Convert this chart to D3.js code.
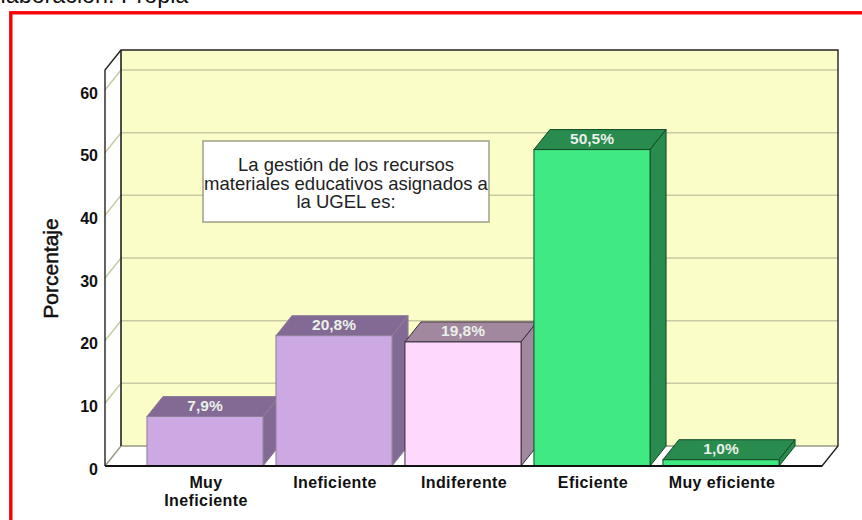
<!DOCTYPE html>
<html><head><meta charset="utf-8">
<script src="https://cdn.jsdelivr.net/npm/d3@7/dist/d3.min.js"></script>
<style>html,body{margin:0;padding:0;background:#fff;overflow:hidden}svg{display:block}</style>
</head><body><svg id="c" width="862" height="520"></svg>
<script>
const categories = ["Muy|Ineficiente","Ineficiente","Indiferente","Eficiente","Muy eficiente"];
const values = [7.9,20.8,19.8,50.5,1.0];
const valueLabels = ["7,9%","20,8%","19,8%","50,5%","1,0%"];
const frontColors = ["#cda9e3","#cda9e3","#ffd8fd","#40ea82","#40ea82"];
const topColors = ["#836a94","#836a94","#a1889f","#2a8b4f","#2a8b4f"];
const sideColors = ["#836a94","#836a94","#a1889f","#2a8b4f","#2a8b4f"];
const edgeColors = ["#8c7f98","#8c7f98","#3a2f3a","#0f4a26","#0f4a26"];
const yTicks = [0,10,20,30,40,50,60];
const noteLines = ["La gestión de los recursos","materiales educativos asignados a","la UGEL es:"];
const sourceText = "Elaboración: Propia";
const yTitle = "Porcentaje";

const svg = d3.select("#c");
const dx = 16, dy = -20;
const y = d3.scaleLinear().domain([0,63.2]).range([466,70]);
const x = d3.scaleBand().domain(categories).range([140.5,785.5]).paddingInner(0.1).paddingOuter(0.05);
const L = 105, R = 822;
const poly = pts => pts.map(p=>p.join(",")).join(" ");

svg.append("text").attr("x",-15).attr("y",3).attr("font-family","Liberation Sans").attr("font-size",23.3).attr("fill","#111").text(sourceText);
svg.append("rect").attr("x",10.8).attr("y",12.8).attr("width",860).attr("height",520).attr("fill","#fff").attr("stroke","#f80000").attr("stroke-width",3.4);

const yTop = y(y.domain()[1]), base = y(0);
svg.append("polygon").attr("points",poly([[L+dx,yTop+dy],[R+dx,yTop+dy],[R+dx,base+dy],[L+dx,base+dy]])).attr("fill","#fafdc8");
svg.append("polygon").attr("points",poly([[L,yTop],[L+dx,yTop+dy],[L+dx,base+dy],[L,base]])).attr("fill","#fff");
svg.append("polygon").attr("points",poly([[L,base],[L+dx,base+dy],[R+dx,base+dy],[R,base]])).attr("fill","#fff");

yTicks.forEach(t=>{
  const yy=y(t);
  svg.append("path").attr("d",`M${L},${yy}L${L+dx},${yy+dy}H${R+dx}`).attr("fill","none").attr("stroke",t>0?"#c9c9a4":"#9a9a84").attr("stroke-width",1.5);
});
svg.append("path").attr("d",`M${L},${base}V${yTop}L${L+dx},${yTop+dy}H${R+dx}V${base+dy}L${R},${base}H${L}`).attr("fill","none").attr("stroke","#222").attr("stroke-width",1.4);
svg.append("path").attr("d",`M${L+dx},${yTop+dy}V${base+dy}`).attr("stroke","#222").attr("stroke-width",1.6);

const ax = svg.append("g").attr("transform",`translate(${L-7},3)`).call(d3.axisLeft(y).tickValues(yTicks).tickSize(0).tickPadding(0).tickFormat(d3.format("d")));
ax.select(".domain").remove();
ax.selectAll("text").attr("font-family","Liberation Sans").attr("font-weight","bold").attr("font-size",16).attr("fill","#111");

svg.append("text").attr("transform","translate(58,268.5) rotate(-90)").attr("text-anchor","middle").attr("font-family","Liberation Sans").attr("font-size",21).attr("fill","#111").attr("stroke","#111").attr("stroke-width",0.5).text(yTitle);

const bars = svg.append("g").selectAll("g").data(values).join("g");
bars.each(function(v,i){
  const g=d3.select(this), bw=x.bandwidth(), x0=x(categories[i]), y0=y(v), e=edgeColors[i];
  g.append("polygon").attr("points",poly([[x0,y0],[x0+dx,y0+dy],[x0+bw+dx,y0+dy],[x0+bw,y0]])).attr("fill",topColors[i]).attr("stroke",e).attr("stroke-width",1);
  g.append("polygon").attr("points",poly([[x0+bw,y0],[x0+bw+dx,y0+dy],[x0+bw+dx,base+dy],[x0+bw,base]])).attr("fill",sideColors[i]).attr("stroke",e).attr("stroke-width",1);
  g.append("rect").attr("x",x0).attr("y",y0).attr("width",bw).attr("height",base-y0).attr("fill",frontColors[i]).attr("stroke",e).attr("stroke-width",1);
  g.append("text").attr("x",x0+bw/2).attr("y",y0+dy/2+4).attr("text-anchor","middle").attr("font-family","Liberation Sans").attr("font-weight","bold").attr("font-size",15.5).attr("fill","#e9f0e9").text(valueLabels[i]);
});
svg.append("path").attr("d",`M${L},${base}H${R}`).attr("stroke","#111").attr("stroke-width",2);

categories.forEach(c=>{
  const t=svg.append("text").attr("text-anchor","middle").attr("font-family","Liberation Sans").attr("font-weight","bold").attr("font-size",16).attr("letter-spacing",0.4).attr("fill","#111");
  c.split("|").forEach((s,j)=>t.append("tspan").attr("x",x(c)+x.bandwidth()/2+1).attr("y",488+j*18).text(s));
});

svg.append("rect").attr("x",203).attr("y",141).attr("width",286).attr("height",81).attr("fill","#fff").attr("stroke","#a0a088").attr("stroke-width",1.5);
const note = svg.append("text").attr("text-anchor","middle").attr("font-family","Liberation Sans").attr("font-size",18.5).attr("fill","#222");
noteLines.forEach((s,i)=>note.append("tspan").attr("x",346).attr("y",171+i*18.5).text(s));
</script></body></html>
